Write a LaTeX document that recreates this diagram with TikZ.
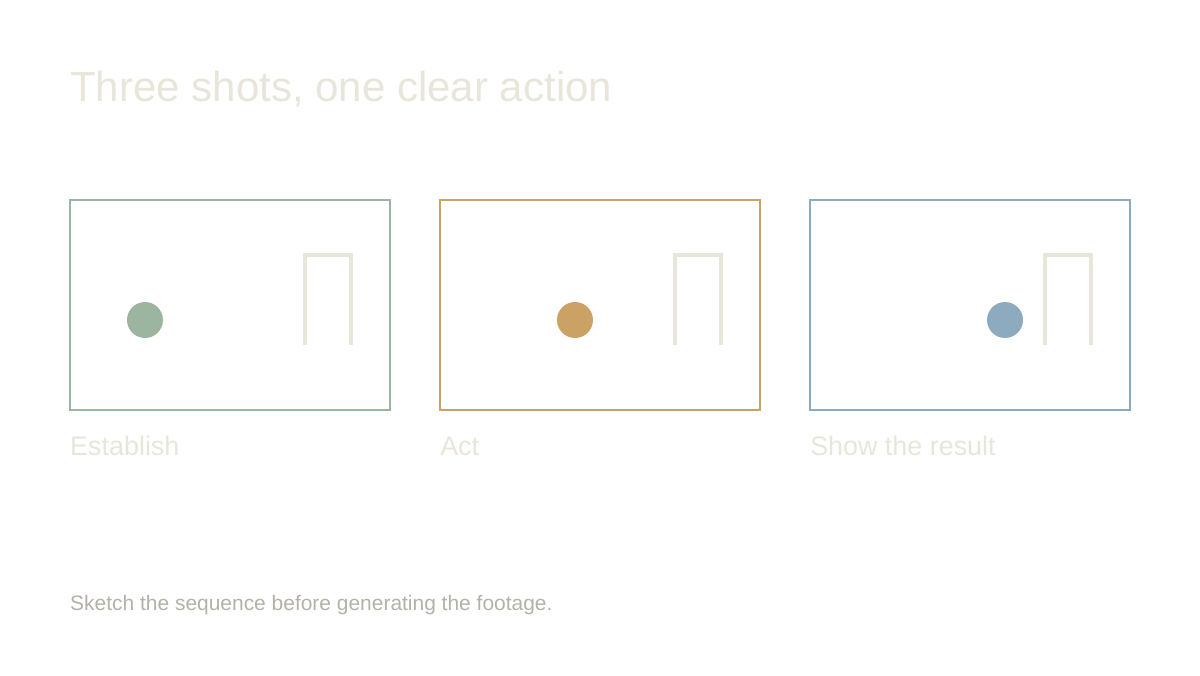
\documentclass[tikz,border=0pt]{standalone}
\usepackage{fontspec}
\setmainfont{Liberation Sans}
\definecolor{pale}{HTML}{E8E6DA}
\definecolor{grey}{HTML}{B3B1A8}
\definecolor{sage}{HTML}{9CB5A1}
\definecolor{ochre}{HTML}{CBA165}
\definecolor{steel}{HTML}{8DAABF}
\tikzset{
  frame/.style={draw=#1, line width=1.6pt, rectangle, minimum width=9.07cm, minimum height=5.95cm, inner sep=0pt},
  actor/.style={fill=#1, circle, minimum size=1.02cm, inner sep=0pt},
  door/.style={draw=pale, line width=2.6pt},
  label/.style={text=pale, anchor=base west, inner sep=0pt, font=\fontsize{21.7}{24}\selectfont}
}
\begin{document}
\begin{tikzpicture}[x=0.02835cm, y=-0.02835cm]
  \useasboundingbox (0,0) rectangle (1200,675);
  \node[text=pale, anchor=base west, inner sep=0pt, font=\fontsize{33.9}{38}\selectfont] (title) at (70,101) {Three shots, one clear action};
  \draw
    (230,305) node[frame=sage] (f1){}
    (600,305) node[frame=ochre] (f2){}
    (970,305) node[frame=steel] (f3){};
  \draw
    (145,320) node[actor=sage] (a1){}
    (575,320) node[actor=ochre] (a2){}
    (1005,320) node[actor=steel] (a3){};
  \begin{scope}[door]
    \draw (305,345) -- (305,255) -- (351,255) -- (351,345);
    \draw (675,345) -- (675,255) -- (721,255) -- (721,345);
    \draw (1045,345) -- (1045,255) -- (1091,255) -- (1091,345);
  \end{scope}
  \node[label] (l1) at (70,455) {Establish};
  \node[label] (l2) at (440,455) {Act};
  \node[label] (l3) at (810,455) {Show the result};
  \node[text=grey, anchor=base west, inner sep=0pt, font=\fontsize{16.9}{20}\selectfont] (note) at (70,610) {Sketch the sequence before generating the footage.};
\end{tikzpicture}
\end{document}
